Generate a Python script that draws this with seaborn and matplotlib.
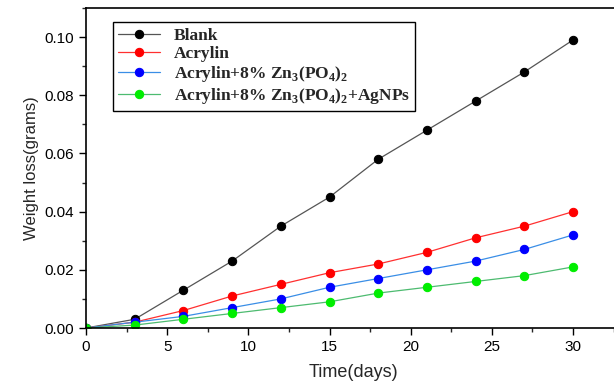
import numpy as np
import pandas as pd
import matplotlib
matplotlib.use("Agg")
import matplotlib.pyplot as plt
import seaborn as sns
from matplotlib.ticker import MultipleLocator

# Data
days = [0, 3, 6, 9, 12, 15, 18, 21, 24, 27, 30]
blank = [0.0, 0.003, 0.013, 0.023, 0.035, 0.045, 0.058, 0.068, 0.078, 0.088, 0.099]
acrylin = [0.0, 0.002, 0.006, 0.011, 0.015, 0.019, 0.022, 0.026, 0.031, 0.035, 0.040]
acrylin_zn = [0.0, 0.002, 0.004, 0.007, 0.010, 0.014, 0.017, 0.020, 0.023, 0.027, 0.032]
acrylin_zn_ag = [0.0, 0.001, 0.003, 0.005, 0.007, 0.009, 0.012, 0.014, 0.016, 0.018, 0.021]

labels = ["Blank", "Acrylin",
          r"Acrylin+8% Zn$_\mathbf{3}$(PO$_\mathbf{4}$)$_\mathbf{2}$",
          r"Acrylin+8% Zn$_\mathbf{3}$(PO$_\mathbf{4}$)$_\mathbf{2}$+AgNPs"]
line_colors = ["#555555", "#ff3030", "#3a8ee6", "#4dbb70"]
marker_colors = ["#000000", "#ff0000", "#0000ff", "#00ee00"]

df = pd.DataFrame({
    "day": days * 4,
    "loss": blank + acrylin + acrylin_zn + acrylin_zn_ag,
    "group": [l for l in labels for _ in days],
})

sns.set_theme(style="white")
plt.rcParams["font.family"] = ["Liberation Sans", "DejaVu Sans"]
plt.rcParams["mathtext.fontset"] = "custom"
plt.rcParams["mathtext.rm"] = "Liberation Serif:bold"
plt.rcParams["mathtext.bf"] = "Liberation Serif:bold"

fig = plt.figure(figsize=(6.14, 3.82), dpi=100)
# right edge of the frame runs past the picture, as in the original crop
ax = fig.add_axes([86 / 614, 1 - 328 / 382, 534 / 614, (328 - 8) / 382])

for lab, lc, mc in zip(labels, line_colors, marker_colors):
    sub = df[df["group"] == lab]
    sns.lineplot(data=sub, x="day", y="loss", ax=ax, color=lc, lw=0.9,
                 marker="o", markersize=6, markerfacecolor=mc,
                 markeredgecolor=mc, label=lab)

ax.set_xlim(0, 30 * 534 / 487)
ax.set_ylim(0, 0.11)
ax.xaxis.set_major_locator(MultipleLocator(5))
ax.xaxis.set_minor_locator(MultipleLocator(2.5))
ax.yaxis.set_major_locator(MultipleLocator(0.02))
ax.yaxis.set_minor_locator(MultipleLocator(0.01))
ax.yaxis.set_major_formatter(matplotlib.ticker.FormatStrFormatter("%.2f"))
ax.tick_params(which="major", direction="out", length=5, width=1, labelsize=11,
               bottom=True, left=True, colors="black")
ax.tick_params(which="minor", direction="out", length=3, width=1,
               bottom=True, left=True)
for s in ax.spines.values():
    s.set_color("black")
    s.set_linewidth(1.2)

ax.set_xlabel("Time(days)", fontsize=13, labelpad=7)
ax.set_ylabel("Weight loss(grams)", fontsize=12, labelpad=4)

leg = ax.legend(loc="upper left", bbox_to_anchor=(27 / 534, 0.955), frameon=True,
                fancybox=False, edgecolor="black", framealpha=1,
                prop={"family": "Liberation Serif", "weight": "bold", "size": 12.5},
                handlelength=2.4, labelspacing=0.12, borderpad=0.3,
                borderaxespad=0)
leg.get_frame().set_linewidth(1.0)

fig.savefig("out.png", dpi=100)
